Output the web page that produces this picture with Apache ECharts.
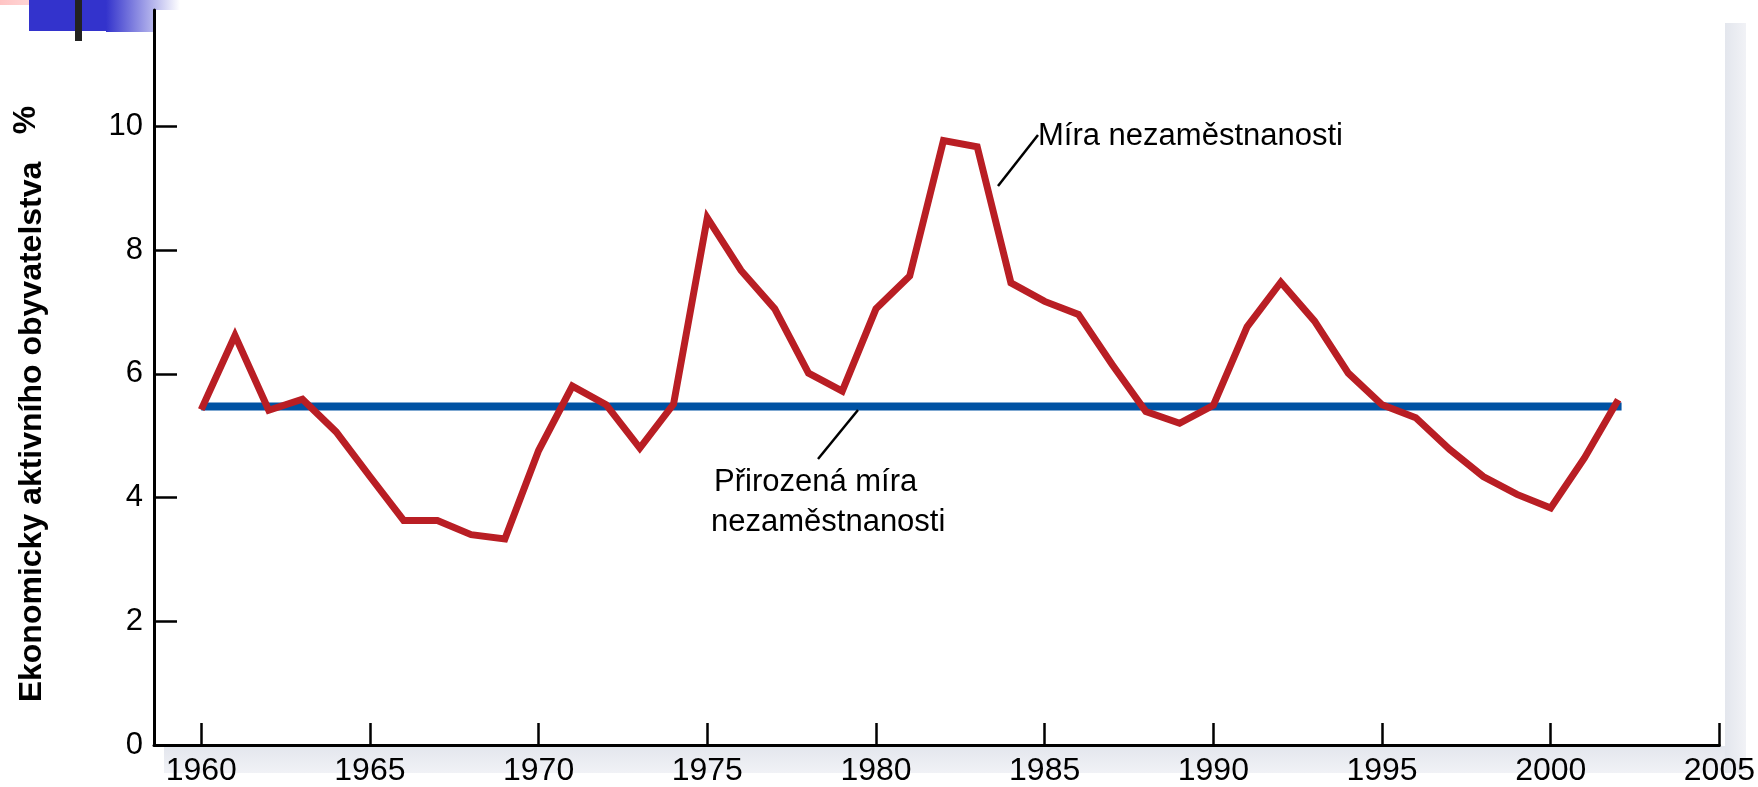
<!DOCTYPE html>
<html>
<head>
<meta charset="utf-8">
<script src="https://cdn.jsdelivr.net/npm/echarts@6.0.0/dist/echarts.min.js"></script>
<style>
    html, body { margin: 0; padding: 0; background: #fff; }
    #chart { width: 1758px; height: 787px; }
</style>
</head>
<body>
<div id="chart"></div>
<script>
// data
var years = [1960, 1961, 1962, 1963, 1964, 1965, 1966, 1967, 1968, 1969,
    1970, 1971, 1972, 1973, 1974, 1975, 1976, 1977, 1978, 1979,
    1980, 1981, 1982, 1983, 1984, 1985, 1986, 1987, 1988, 1989,
    1990, 1991, 1992, 1993, 1994, 1995, 1996, 1997, 1998, 1999,
    2000, 2001, 2002];
var unemployment = [5.42, 6.62, 5.41, 5.59, 5.06, 4.34, 3.63, 3.63, 3.40, 3.33,
    4.76, 5.80, 5.50, 4.80, 5.51, 8.52, 7.67, 7.05, 6.01, 5.72,
    7.05, 7.58, 9.77, 9.67, 7.47, 7.17, 6.96, 6.15, 5.39, 5.20,
    5.49, 6.76, 7.48, 6.85, 6.01, 5.50, 5.29, 4.78, 4.34, 4.05,
    3.83, 4.64, 5.58];
var naturalYears = [1960, 2002.1];
var naturalRate = [5.47, 5.47];
var xTicks = [1960, 1965, 1970, 1975, 1980, 1985, 1990, 1995, 2000, 2005];
var yTicks = [0, 2, 4, 6, 8, 10];

var font = '"Liberation Sans", Arial, sans-serif';

var chart = echarts.init(document.getElementById('chart'), null, {renderer: 'canvas'});

chart.setOption({
    animation: false,
    backgroundColor: '#fff',
    grid: {left: 154, right: 33, top: 10, bottom: 41},
    xAxis: {
        type: 'value',
        min: 1958.6,
        max: 2005,
        axisLine: {lineStyle: {color: '#000', width: 3}},
        axisTick: {
            customValues: xTicks,
            inside: true,
            length: 22,
            lineStyle: {color: '#000', width: 2.5}
        },
        axisLabel: {
            customValues: xTicks,
            formatter: function (v) { return String(v); },
            margin: 10,
            color: '#000',
            fontSize: 32,
            fontFamily: font
        },
        splitLine: {show: false}
    },
    yAxis: {
        type: 'value',
        min: 0,
        max: 11.88,
        axisLine: {show: true, lineStyle: {color: '#000', width: 3}},
        axisTick: {
            show: true,
            customValues: yTicks,
            inside: true,
            length: 23,
            lineStyle: {color: '#000', width: 2.5}
        },
        axisLabel: {
            customValues: yTicks,
            formatter: function (v) { return String(v); },
            margin: 11,
            color: '#000',
            fontSize: 31,
            fontFamily: font
        },
        splitLine: {show: false}
    },
    series: [
        {
            name: 'Přirozená míra nezaměstnanosti',
            type: 'line',
            showSymbol: false,
            data: naturalYears.map(function (y, i) { return [y, naturalRate[i]]; }),
            lineStyle: {color: '#0052a3', width: 8, cap: 'butt'},
            z: 2
        },
        {
            name: 'Míra nezaměstnanosti',
            type: 'line',
            showSymbol: false,
            data: years.map(function (y, i) { return [y, unemployment[i]]; }),
            lineStyle: {color: '#b91e24', width: 7, join: 'miter', cap: 'butt'},
            z: 3
        }
    ],
    graphic: [
        // slide decoration top left
        {type: 'rect', z: -1, shape: {x: 0, y: 0, width: 60, height: 5},
            style: {fill: new echarts.graphic.LinearGradient(0, 0, 1, 0, [
                {offset: 0, color: '#ffc4c4'}, {offset: 1, color: '#ffe6e6'}])}},
        {type: 'rect', z: -1, shape: {x: 29, y: 0, width: 77, height: 31}, style: {fill: '#3333cc'}},
        {type: 'rect', z: -1, shape: {x: 106, y: 0, width: 48, height: 32},
            style: {fill: new echarts.graphic.LinearGradient(0, 0, 1, 0, [
                {offset: 0, color: '#3333cc'}, {offset: 1, color: '#b8b8ed'}])}},
        {type: 'rect', z: -1, shape: {x: 154, y: 0, width: 26, height: 10},
            style: {fill: new echarts.graphic.LinearGradient(0, 0, 1, 0, [
                {offset: 0, color: '#b8b8ed'}, {offset: 1, color: '#ffffff'}])}},
        {type: 'rect', z: -1, shape: {x: 75, y: 0, width: 7, height: 41}, style: {fill: '#222'}},
        // shadow of the plot frame
        {type: 'rect', z: -1, shape: {x: 1725, y: 23, width: 21, height: 750},
            style: {fill: new echarts.graphic.LinearGradient(0, 0, 1, 0, [
                {offset: 0, color: '#e3e6ed'}, {offset: 1, color: '#f1f2f6'}])}},
        {type: 'rect', z: -1, shape: {x: 164, y: 746, width: 1561, height: 27},
            style: {fill: new echarts.graphic.LinearGradient(0, 0, 0, 1, [
                {offset: 0, color: '#e3e6ed'}, {offset: 1, color: '#f1f2f6'}])}},
        // y axis title
        {type: 'text', z: 100, x: 32, y: 432, rotation: Math.PI / 2,
            style: {text: 'Ekonomicky aktivního obyvatelstva', fill: '#000',
                font: 'bold 32px ' + font, textAlign: 'center', textVerticalAlign: 'middle'}},
        {type: 'text', z: 100, x: 26, y: 120, rotation: Math.PI / 2,
            style: {text: '%', fill: '#000',
                font: 'bold 32px ' + font, textAlign: 'center', textVerticalAlign: 'middle'}},
        // annotations
        {type: 'line', z: 100, shape: {x1: 1038, y1: 135, x2: 998, y2: 186},
            style: {stroke: '#000', lineWidth: 2.5}},
        {type: 'text', z: 100, x: 1038, y: 136,
            style: {text: 'Míra nezaměstnanosti', fill: '#000',
                font: '31px ' + font, textAlign: 'left', textVerticalAlign: 'middle'}},
        {type: 'line', z: 100, shape: {x1: 858, y1: 410, x2: 818, y2: 459},
            style: {stroke: '#000', lineWidth: 2.5}},
        {type: 'text', z: 100, x: 714, y: 482,
            style: {text: 'Přirozená míra', fill: '#000',
                font: '31px ' + font, textAlign: 'left', textVerticalAlign: 'middle'}},
        {type: 'text', z: 100, x: 711, y: 522,
            style: {text: 'nezaměstnanosti', fill: '#000',
                font: '31px ' + font, textAlign: 'left', textVerticalAlign: 'middle'}}
    ]
});
</script>
</body>
</html>
